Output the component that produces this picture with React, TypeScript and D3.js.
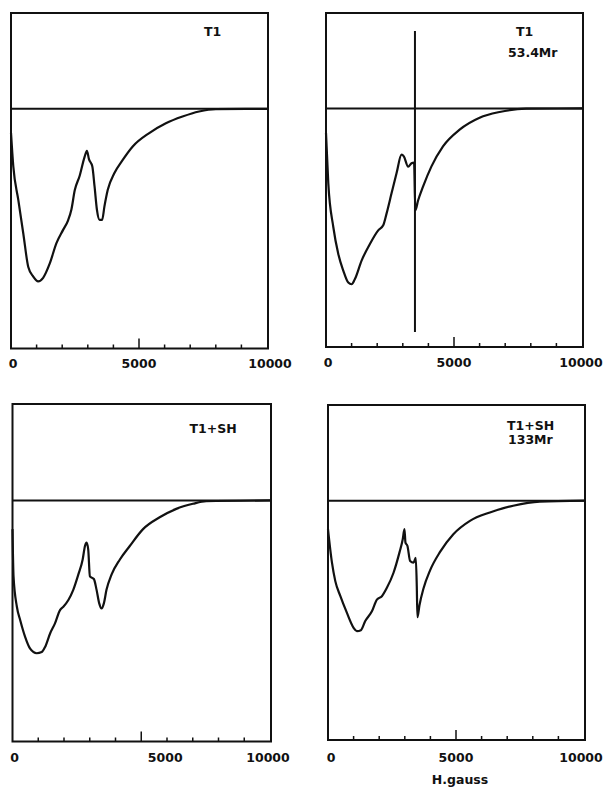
import React from "react";
import * as d3 from "d3";

// field H (gauss) vs. signal, 0 = baseline, -1 = bottom of frame
const curveT1: [number, number][] = [
  [0, -0.1], [90, -0.24], [285, -0.38], [480, -0.52], [675, -0.66], [870, -0.70],
  [1060, -0.72], [1255, -0.705], [1515, -0.645], [1775, -0.56], [2035, -0.505],
  [2230, -0.465], [2360, -0.42], [2490, -0.34], [2680, -0.28], [2875, -0.2],
  [2965, -0.175], [3045, -0.21], [3175, -0.24], [3265, -0.325], [3355, -0.42],
  [3460, -0.463], [3560, -0.463], [3650, -0.407], [3780, -0.338], [4040, -0.268],
  [4365, -0.213], [4755, -0.157], [5400, -0.101], [6050, -0.06], [6700, -0.032],
  [7345, -0.011], [8000, -0.001], [10000, 0],
];

const curveT1Irr: [number, number][] = [
  [0, -0.103], [90, -0.314], [285, -0.497], [480, -0.61], [675, -0.68], [870, -0.73],
  [1000, -0.737], [1130, -0.715], [1390, -0.638], [1715, -0.568], [2040, -0.511],
  [2235, -0.49], [2365, -0.441], [2560, -0.356], [2755, -0.272], [2950, -0.194],
  [3040, -0.201], [3210, -0.244], [3340, -0.23], [3440, -0.227], [3490, -0.427],
  [3600, -0.385], [3790, -0.328], [4115, -0.244], [4570, -0.159], [5220, -0.089],
  [6000, -0.039], [6780, -0.015], [7820, -0.001], [10000, 0],
];

const curveT1SH: [number, number][] = [
  [0, -0.119], [40, -0.315], [170, -0.441], [300, -0.497], [490, -0.566], [685, -0.615],
  [940, -0.634], [1135, -0.629], [1265, -0.608], [1460, -0.552], [1650, -0.51],
  [1845, -0.455], [1975, -0.441], [2170, -0.413], [2360, -0.371], [2555, -0.308],
  [2725, -0.245], [2815, -0.189], [2877, -0.175], [2940, -0.203], [3006, -0.315],
  [3160, -0.326], [3265, -0.371], [3368, -0.427], [3458, -0.448], [3548, -0.427],
  [3650, -0.371], [3845, -0.308], [4170, -0.245], [4555, -0.189], [5070, -0.119],
  [5715, -0.07], [6360, -0.035], [7005, -0.014], [7520, -0.003], [10000, 0],
];

const curveT1SHIrr: [number, number][] = [
  [0, -0.119], [155, -0.259], [285, -0.336], [480, -0.398], [740, -0.469], [1000, -0.531],
  [1130, -0.545], [1285, -0.541], [1455, -0.503], [1715, -0.462], [1910, -0.413],
  [2105, -0.399], [2300, -0.364], [2560, -0.301], [2790, -0.217], [2920, -0.161],
  [2987, -0.119], [3026, -0.175], [3104, -0.189], [3208, -0.252], [3338, -0.259],
  [3429, -0.239], [3468, -0.357], [3494, -0.487], [3571, -0.438], [3727, -0.368],
  [3987, -0.291], [4377, -0.214], [4896, -0.14], [5545, -0.084], [6325, -0.049],
  [7234, -0.021], [8273, -0.004], [10000, 0],
];

// irradiation marker in the T1 53.4Mr panel: [H, yTop, yBottom]
const markerT1Irr: [number, number, number] = [3475, 0.325, -0.937];

const tickValues = [0, 5000, 10000];
const tickLabels = ["0", "5000", "10000"];
const panelTitles = [["T1"], ["T1", "53.4Mr"], ["T1+SH"], ["T1+SH", "133Mr"]];
const xTitle = "H.gauss";

const panels = [
  { curve: curveT1, titles: panelTitles[0], left: 11, right: 268, top: 13, bottom: 348.5, txs: [193], ty: [23], labelDx: [2, 0, 3], labelY: 368 },
  { curve: curveT1Irr, titles: panelTitles[1], left: 326, right: 583, top: 13, bottom: 347, txs: [190, 182], ty: [23, 44], labelDx: [2, 0, -1], labelY: 367, marker: markerT1Irr },
  { curve: curveT1SH, titles: panelTitles[2], left: 12.5, right: 271, top: 404, bottom: 741.5, txs: [177], ty: [29], labelDx: [2, 24, -2], labelY: 762 },
  { curve: curveT1SHIrr, titles: panelTitles[3], left: 328, right: 585, top: 405, bottom: 740, txs: [179, 180], ty: [25, 39], labelDx: [3, 0, -3], labelY: 762 },
];

const ink = "#111";
const font = "'DejaVu Sans', sans-serif";

const Panel = ({ p }: { p: any }) => {
  const x = d3.scaleLinear().domain([0, 10000]).range([p.left, p.right - 1]);
  const y = d3.scaleLinear().domain([-1, 0.4]).range([p.bottom, p.top]);
  const line = d3
    .line<[number, number]>()
    .x((d) => x(d[0]))
    .y((d) => y(d[1]))
    .curve(d3.curveMonotoneX);
  const minor = x.ticks(10).filter((t) => t > 0 && t < 10000);

  return (
    <g>
      <rect
        x={p.left}
        y={p.top}
        width={p.right - p.left}
        height={p.bottom - p.top}
        fill="none"
        stroke={ink}
        strokeWidth={2}
      />
      <line x1={p.left} x2={p.right} y1={y(0)} y2={y(0)} stroke={ink} strokeWidth={2} />
      {minor.map((t) => (
        <line
          key={t}
          x1={x(t)}
          x2={x(t)}
          y1={p.bottom}
          y2={p.bottom - (t === 5000 ? 10 : 4)}
          stroke={ink}
          strokeWidth={1.5}
        />
      ))}
      <path d={line(p.curve) || ""} fill="none" stroke={ink} strokeWidth={2.2} strokeLinejoin="round" />
      {p.marker && (
        <line
          x1={x(p.marker[0])}
          x2={x(p.marker[0])}
          y1={y(p.marker[1])}
          y2={y(p.marker[2])}
          stroke={ink}
          strokeWidth={2}
        />
      )}
      {tickValues.map((t, i) => (
        <text
          key={t}
          x={x(t) + p.labelDx[i]}
          y={p.labelY}
          textAnchor="middle"
          fontFamily={font}
          fontWeight="bold"
          fontSize={12.5}
          fill={ink}
        >
          {tickLabels[i]}
        </text>
      ))}
      {p.titles.map((s: string, i: number) => (
        <text
          key={s}
          x={p.left + p.txs[i]}
          y={p.top + p.ty[i]}
          fontFamily={font}
          fontWeight="bold"
          fontSize={12.5}
          fill={ink}
        >
          {s}
        </text>
      ))}
    </g>
  );
};

export default function App() {
  return (
    <svg
      width={605}
      height={789}
      style={{ position: "absolute", left: 0, top: 0, background: "#fff", display: "block" }}
    >
      <rect width={605} height={789} fill="#fff" />
      {panels.map((p, i) => (
        <Panel key={i} p={p} />
      ))}
      <text x={460} y={784} textAnchor="middle" fontFamily={font} fontWeight="bold" fontSize={12.5} fill={ink}>
        {xTitle}
      </text>
    </svg>
  );
}
